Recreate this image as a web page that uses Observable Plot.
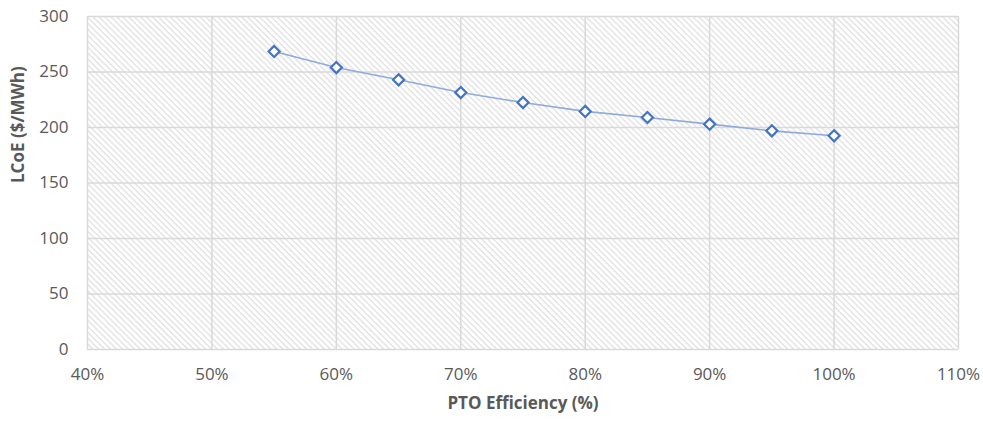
<!DOCTYPE html>
<html>
<head>
<meta charset="utf-8">
<script src="https://cdn.jsdelivr.net/npm/d3@7"></script>
<script src="https://cdn.jsdelivr.net/npm/@observablehq/plot@0.6"></script>
<style>
  html, body { margin: 0; padding: 0; background: #fff; }
  #chart { width: 983px; height: 421px; }
</style>
</head>
<body>
<div id="chart"></div>
<script>
const efficiency = [0.55, 0.60, 0.65, 0.70, 0.75, 0.80, 0.85, 0.90, 0.95, 1.00];
const lcoe = [268.5, 254, 243, 231.5, 222.5, 214.5, 209, 203, 197, 192.5];
const xTicks = [0.4, 0.5, 0.6, 0.7, 0.8, 0.9, 1.0, 1.1];
const yTicks = [0, 50, 100, 150, 200, 250, 300];

const data = efficiency.map((e, i) => ({e, v: lcoe[i]}));

const font = "'Open Sans', 'Liberation Sans', sans-serif";
const grey = "#595959";

const plot = Plot.plot({
  width: 983,
  height: 421,
  marginLeft: 87,
  marginRight: 25,
  marginTop: 16,
  marginBottom: 72,
  style: {fontFamily: font, fontSize: "17px", color: grey, background: "#fff"},
  x: {domain: [0.4, 1.1], axis: null},
  y: {domain: [0, 300], axis: null},
  marks: [
    Plot.frame({fill: "url(#hatch)", stroke: "none"}),
    Plot.gridX(xTicks, {stroke: "#d9d9d9", strokeOpacity: 1, strokeWidth: 1.5}),
    Plot.gridY(yTicks.filter(d => d > 0), {stroke: "#d9d9d9", strokeOpacity: 1, strokeWidth: 1.5}),
    Plot.ruleY([0], {stroke: "#d9d9d9", strokeWidth: 1.5}),
    Plot.text(yTicks, {y: d => d, frameAnchor: "left", dx: -19, textAnchor: "end", text: d => String(d), fontSize: 17, fill: grey}),
    Plot.text(xTicks, {x: d => d, frameAnchor: "bottom", dy: 30, text: d => Math.round(d * 100) + "%", fontSize: 17, fill: grey}),
    Plot.line(data, {x: "e", y: "v", stroke: "#8faadc", strokeWidth: 1.6}),
    Plot.dot(data, {x: "e", y: "v", symbol: "diamond2", r: 5, stroke: "#4472c4", strokeWidth: 2.2, fill: "#fff"}),
    Plot.text(["PTO Efficiency (%)"], {frameAnchor: "bottom", dy: 59, fontWeight: "bold", fontSize: 17, fill: grey}),
    Plot.text(["LCoE ($/MWh)"], {frameAnchor: "left", dx: -69, rotate: -90, fontWeight: "bold", fontSize: 17, fill: grey})
  ]
});

const defs = d3.select(plot).insert("defs", ":first-child");
const pat = defs.append("pattern")
  .attr("id", "hatch")
  .attr("patternUnits", "userSpaceOnUse")
  .attr("width", 4.2)
  .attr("height", 4.2)
  .attr("patternTransform", "rotate(45)");
pat.append("rect").attr("width", 4.2).attr("height", 4.2).attr("fill", "#fff");
pat.append("rect").attr("y", 0).attr("width", 4.2).attr("height", 1.3).attr("fill", "#e0e0e0");

document.getElementById("chart").appendChild(plot);
</script>
</body>
</html>
